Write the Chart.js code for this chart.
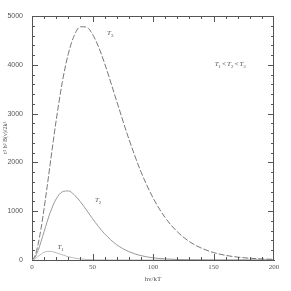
<!DOCTYPE html>
<html>
<head>
<meta charset="utf-8">
<script src="https://cdn.jsdelivr.net/npm/chart.js@4"></script>
<style>
  html, body { margin: 0; padding: 0; background: #fff; }
  #box { width: 291px; height: 291px; }
</style>
</head>
<body>
<div id="box"><canvas id="planck"></canvas></div>
<script>
var hvkT = [0, 2.5, 5, 7.5, 10, 12.5, 15, 17.5, 20, 25, 30, 35, 40, 45, 50, 55, 60, 70, 80, 90, 100, 110, 120, 130, 140, 150, 160, 170, 180, 190, 200];
var curveT3 = [0, 86, 316, 650, 1055, 1501, 1964, 2424, 2863, 3639, 4226, 4605, 4780, 4774, 4625, 4367, 4030, 3254, 2484, 1812, 1274, 870, 580, 378, 243, 153, 95, 59, 36, 22, 13];
var curveT2 = [0, 55, 193, 378, 582, 784, 969, 1127, 1252, 1397, 1415, 1335, 1194, 1024, 848, 683, 537, 313, 172, 90, 45, 22, 11, 5, 2, 1, 0, 0, 0, 0, 0];
var curveT1 = [0, 24, 73, 121, 157, 175, 177, 167, 149, 106, 67, 39, 21, 11, 6, 3, 1, 0, 0, 0, 0, 0, 0, 0, 0, 0, 0, 0, 0, 0, 0];
var xTicks = [0, 50, 100, 150, 200];
var yTicks = [0, 1000, 2000, 3000, 4000, 5000];

// curve labels: [text, subscript, x, y]
var notes = [
    ["T", "3", 62, 4650],
    ["T", "2", 52, 1230],
    ["T", "1", 21, 270]
];

function pts(ys) {
    return hvkT.map(function (x, i) { return { x: x, y: ys[i] }; });
}

// inward ticks on all four sides, closed box, curve notes
var frame = {
    id: "frame",
    afterDraw: function (chart) {
        var ctx = chart.ctx, a = chart.chartArea;
        var sx = chart.scales.x, sy = chart.scales.y;
        ctx.save();
        ctx.strokeStyle = "#555";
        ctx.lineWidth = 1;
        ctx.beginPath();
        ctx.moveTo(a.left, a.top + 0.5);
        ctx.lineTo(a.right, a.top + 0.5);
        ctx.moveTo(a.right - 0.5, a.top);
        ctx.lineTo(a.right - 0.5, a.bottom);
        for (var v = 10; v < 200; v += 10) {
            var px = Math.round(sx.getPixelForValue(v)) + 0.5;
            var len = v % 50 === 0 ? 6 : 3;
            ctx.moveTo(px, a.bottom);
            ctx.lineTo(px, a.bottom - len);
            ctx.moveTo(px, a.top);
            ctx.lineTo(px, a.top + len);
        }
        for (var w = 200; w < 5000; w += 200) {
            var py = Math.round(sy.getPixelForValue(w)) + 0.5;
            var l2 = w % 1000 === 0 ? 6 : 3;
            ctx.moveTo(a.left, py);
            ctx.lineTo(a.left + l2, py);
            ctx.moveTo(a.right, py);
            ctx.lineTo(a.right - l2, py);
        }
        ctx.stroke();

        ctx.fillStyle = "#555";
        ctx.textBaseline = "middle";
        notes.forEach(function (n) {
            var x = sx.getPixelForValue(n[2]), y = sy.getPixelForValue(n[3]);
            ctx.font = "italic 7px 'Liberation Serif'";
            ctx.fillText(n[0], x, y);
            var w0 = ctx.measureText(n[0]).width;
            ctx.font = "5px 'Liberation Serif'";
            ctx.fillText(n[1], x + w0, y + 3);
        });
        // T1 < T2 < T3
        var tx = sx.getPixelForValue(151), ty = sy.getPixelForValue(4020);
        ["1", "2", "3"].forEach(function (s, i) {
            ctx.font = "italic 7px 'Liberation Serif'";
            ctx.fillText("T", tx, ty);
            tx += ctx.measureText("T").width;
            ctx.font = "5px 'Liberation Serif'";
            ctx.fillText(s, tx, ty + 3);
            tx += ctx.measureText(s).width + 1;
            if (i < 2) {
                ctx.font = "7px 'Liberation Serif'";
                ctx.fillText("<", tx, ty);
                tx += ctx.measureText("<").width + 1;
            }
        });
        ctx.restore();
    }
};

new Chart(document.getElementById("planck").getContext("2d"), {
    type: "line",
    data: {
        datasets: [
            { data: pts(curveT3), borderColor: "#777", borderWidth: 1, borderDash: [6, 2] },
            { data: pts(curveT2), borderColor: "#999", borderWidth: 1 },
            { data: pts(curveT1), borderColor: "#bbb", borderWidth: 1 }
        ]
    },
    options: {
        responsive: true,
        maintainAspectRatio: false,
        animation: false,
        layout: { padding: { top: 16, right: 17, left: 0, bottom: 0 } },
        elements: {
            point: { radius: 0 },
            line: { cubicInterpolationMode: "monotone", fill: false }
        },
        plugins: {
            legend: { display: false },
            tooltip: { enabled: false }
        },
        scales: {
            x: {
                type: "linear",
                min: 0,
                max: 200,
                afterBuildTicks: function (s) { s.ticks = xTicks.map(function (v) { return { value: v }; }); },
                afterFit: function (s) { s.height = 31; },
                ticks: {
                    padding: 3, color: "#555", maxRotation: 0,
                    font: { family: "Liberation Serif", size: 7 },
                    callback: function (v) { return String(v); }
                },
                grid: { display: false, drawTicks: false },
                border: { display: true, color: "#555", width: 1 },
                title: { display: true, text: "hν/kT", color: "#555", font: { family: "Liberation Serif", size: 7 }, padding: { top: 0, bottom: 8 } }
            },
            y: {
                min: 0,
                max: 5000,
                afterBuildTicks: function (s) { s.ticks = yTicks.map(function (v) { return { value: v }; }); },
                afterFit: function (s) { s.width = 32; },
                ticks: {
                    padding: 9, color: "#555",
                    font: { family: "Liberation Sans", size: 7 },
                    callback: function (v) { return String(v); }
                },
                grid: { display: false, drawTicks: false },
                border: { display: true, color: "#555", width: 1 },
                title: { display: true, text: "c² h² B(ν)/2k³", color: "#555", font: { family: "Liberation Serif", size: 6 }, padding: { top: 2, bottom: 0 } }
            }
        }
    },
    plugins: [frame]
});
</script>
</body>
</html>
